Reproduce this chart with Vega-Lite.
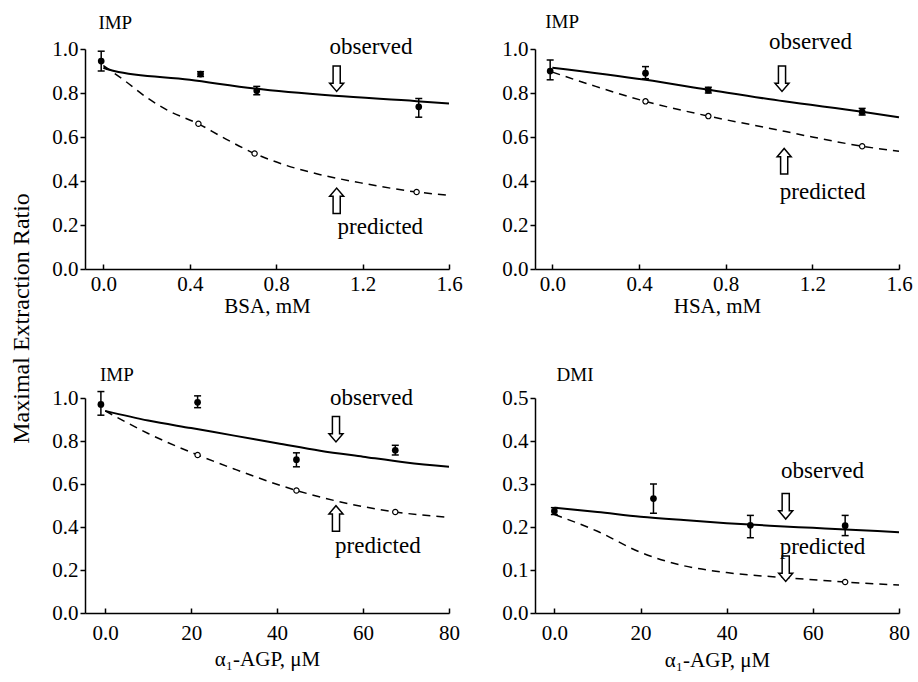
{
  "$schema": "https://vega.github.io/schema/vega-lite/v6.json",
  "background": "white",
  "padding": {"left": 9, "top": 12, "right": 2, "bottom": 5},
  "bounds": "flush",
  "columns": 2,
  "spacing": {"row": 129, "column": 86},
  "title": {"text": "Maximal Extraction Ratio", "orient": "left", "anchor": "middle", "frame": "bounds", "fontSize": 24, "offset": 18, "dx": 23, "font": "Liberation Serif", "fontWeight": "normal", "color": "black"},
  "config": {
    "font": "Liberation Serif",
    "view": {"stroke": null},
    "axis": {"domainColor": "black", "domainWidth": 1.5, "tickColor": "black", "tickWidth": 1.5, "labelColor": "black", "labelFontSize": 21, "labelFont": "Liberation Serif", "titleFont": "Liberation Serif", "titleFontWeight": "normal", "titleFontSize": 21, "titleColor": "black", "grid": false, "labelFlush": false, "labelOverlap": false},
    "axisY": {"tickSize": 5, "labelPadding": 2}
  },
  "datasets": {
    "obs": [
      {"p": 1, "x": -0.01, "y": 0.945, "lo": 0.90, "hi": 0.99},
      {"p": 1, "x": 0.45, "y": 0.886, "lo": 0.875, "hi": 0.897},
      {"p": 1, "x": 0.71, "y": 0.81, "lo": 0.792, "hi": 0.83},
      {"p": 1, "x": 1.46, "y": 0.737, "lo": 0.69, "hi": 0.775},
      {"p": 2, "x": -0.01, "y": 0.90, "lo": 0.86, "hi": 0.95},
      {"p": 2, "x": 0.43, "y": 0.89, "lo": 0.865, "hi": 0.92},
      {"p": 2, "x": 0.72, "y": 0.813, "lo": 0.80, "hi": 0.826},
      {"p": 2, "x": 1.43, "y": 0.714, "lo": 0.70, "hi": 0.73},
      {"p": 3, "x": -1, "y": 0.97, "lo": 0.92, "hi": 1.03},
      {"p": 3, "x": 21.5, "y": 0.98, "lo": 0.955, "hi": 1.01},
      {"p": 3, "x": 44.5, "y": 0.713, "lo": 0.68, "hi": 0.745},
      {"p": 3, "x": 67.5, "y": 0.757, "lo": 0.735, "hi": 0.78},
      {"p": 4, "x": 0, "y": 0.237, "lo": 0.229, "hi": 0.245},
      {"p": 4, "x": 23, "y": 0.266, "lo": 0.232, "hi": 0.30},
      {"p": 4, "x": 45.5, "y": 0.204, "lo": 0.175, "hi": 0.227},
      {"p": 4, "x": 67.5, "y": 0.203, "lo": 0.18, "hi": 0.227}
    ],
    "fit": [
      {"p": 1, "kind": "observed", "x": 0, "y": 0.915},
      {"p": 1, "kind": "observed", "x": 0.05, "y": 0.90},
      {"p": 1, "kind": "observed", "x": 0.4, "y": 0.86},
      {"p": 1, "kind": "observed", "x": 0.7, "y": 0.82},
      {"p": 1, "kind": "observed", "x": 1.07, "y": 0.787},
      {"p": 1, "kind": "observed", "x": 1.45, "y": 0.763},
      {"p": 1, "kind": "observed", "x": 1.6, "y": 0.752},
      {"p": 1, "kind": "predicted", "x": 0, "y": 0.925},
      {"p": 1, "kind": "predicted", "x": 0.1, "y": 0.855},
      {"p": 1, "kind": "predicted", "x": 0.2, "y": 0.78},
      {"p": 1, "kind": "predicted", "x": 0.3, "y": 0.72},
      {"p": 1, "kind": "predicted", "x": 0.44, "y": 0.66},
      {"p": 1, "kind": "predicted", "x": 0.55, "y": 0.60},
      {"p": 1, "kind": "predicted", "x": 0.7, "y": 0.525},
      {"p": 1, "kind": "predicted", "x": 0.85, "y": 0.47},
      {"p": 1, "kind": "predicted", "x": 1.0, "y": 0.43},
      {"p": 1, "kind": "predicted", "x": 1.2, "y": 0.39},
      {"p": 1, "kind": "predicted", "x": 1.45, "y": 0.35},
      {"p": 1, "kind": "predicted", "x": 1.6, "y": 0.335},
      {"p": 2, "kind": "observed", "x": 0, "y": 0.915},
      {"p": 2, "kind": "observed", "x": 0.43, "y": 0.86},
      {"p": 2, "kind": "observed", "x": 0.72, "y": 0.815},
      {"p": 2, "kind": "observed", "x": 1.07, "y": 0.762},
      {"p": 2, "kind": "observed", "x": 1.43, "y": 0.715},
      {"p": 2, "kind": "observed", "x": 1.6, "y": 0.69},
      {"p": 2, "kind": "predicted", "x": 0, "y": 0.895},
      {"p": 2, "kind": "predicted", "x": 0.2, "y": 0.83},
      {"p": 2, "kind": "predicted", "x": 0.43, "y": 0.762},
      {"p": 2, "kind": "predicted", "x": 0.72, "y": 0.695},
      {"p": 2, "kind": "predicted", "x": 1.0, "y": 0.64},
      {"p": 2, "kind": "predicted", "x": 1.2, "y": 0.60},
      {"p": 2, "kind": "predicted", "x": 1.43, "y": 0.558},
      {"p": 2, "kind": "predicted", "x": 1.6, "y": 0.535},
      {"p": 3, "kind": "observed", "x": 0, "y": 0.94},
      {"p": 3, "kind": "observed", "x": 10, "y": 0.895},
      {"p": 3, "kind": "observed", "x": 20, "y": 0.86},
      {"p": 3, "kind": "observed", "x": 30, "y": 0.825},
      {"p": 3, "kind": "observed", "x": 40, "y": 0.79},
      {"p": 3, "kind": "observed", "x": 50, "y": 0.755},
      {"p": 3, "kind": "observed", "x": 60, "y": 0.727},
      {"p": 3, "kind": "observed", "x": 70, "y": 0.70},
      {"p": 3, "kind": "observed", "x": 80, "y": 0.68},
      {"p": 3, "kind": "predicted", "x": 0, "y": 0.94},
      {"p": 3, "kind": "predicted", "x": 10, "y": 0.835},
      {"p": 3, "kind": "predicted", "x": 21.5, "y": 0.735},
      {"p": 3, "kind": "predicted", "x": 30, "y": 0.67},
      {"p": 3, "kind": "predicted", "x": 44.5, "y": 0.57},
      {"p": 3, "kind": "predicted", "x": 54, "y": 0.52},
      {"p": 3, "kind": "predicted", "x": 67.5, "y": 0.47},
      {"p": 3, "kind": "predicted", "x": 80, "y": 0.445},
      {"p": 4, "kind": "observed", "x": 0, "y": 0.245},
      {"p": 4, "kind": "observed", "x": 10, "y": 0.235},
      {"p": 4, "kind": "observed", "x": 20, "y": 0.224},
      {"p": 4, "kind": "observed", "x": 30, "y": 0.216},
      {"p": 4, "kind": "observed", "x": 40, "y": 0.209},
      {"p": 4, "kind": "observed", "x": 50, "y": 0.203},
      {"p": 4, "kind": "observed", "x": 60, "y": 0.198},
      {"p": 4, "kind": "observed", "x": 70, "y": 0.193},
      {"p": 4, "kind": "observed", "x": 80, "y": 0.188},
      {"p": 4, "kind": "predicted", "x": 0, "y": 0.229},
      {"p": 4, "kind": "predicted", "x": 10, "y": 0.19},
      {"p": 4, "kind": "predicted", "x": 20, "y": 0.141},
      {"p": 4, "kind": "predicted", "x": 30, "y": 0.11},
      {"p": 4, "kind": "predicted", "x": 40, "y": 0.094},
      {"p": 4, "kind": "predicted", "x": 54, "y": 0.082},
      {"p": 4, "kind": "predicted", "x": 67.5, "y": 0.072},
      {"p": 4, "kind": "predicted", "x": 80, "y": 0.065}
    ],
    "pred": [
      {"p": 1, "x": 0.44, "y": 0.66}, {"p": 1, "x": 0.7, "y": 0.525}, {"p": 1, "x": 1.45, "y": 0.35},
      {"p": 2, "x": 0.43, "y": 0.762}, {"p": 2, "x": 0.72, "y": 0.695}, {"p": 2, "x": 1.43, "y": 0.558},
      {"p": 3, "x": 21.5, "y": 0.735}, {"p": 3, "x": 44.5, "y": 0.57}, {"p": 3, "x": 67.5, "y": 0.47},
      {"p": 4, "x": 67.5, "y": 0.072}
    ],
    "ann": [
      {"p": 1, "dir": "title", "label": "IMP", "x": -0.023, "y": 1.091},
      {"p": 1, "dir": "text", "label": "observed", "x": 1.047, "y": 1.01},
      {"p": 1, "dir": "down", "label": "", "x": 1.08, "y": 0.865},
      {"p": 1, "dir": "up", "label": "", "x": 1.08, "y": 0.31},
      {"p": 1, "dir": "text", "label": "predicted", "x": 1.084, "y": 0.19},
      {"p": 2, "dir": "title", "label": "IMP", "x": -0.033, "y": 1.096},
      {"p": 2, "dir": "text", "label": "observed", "x": 1.0, "y": 1.03},
      {"p": 2, "dir": "down", "label": "", "x": 1.06, "y": 0.865},
      {"p": 2, "dir": "up", "label": "", "x": 1.07, "y": 0.49},
      {"p": 2, "dir": "text", "label": "predicted", "x": 1.05, "y": 0.35},
      {"p": 3, "dir": "title", "label": "IMP", "x": -1.2, "y": 1.079},
      {"p": 3, "dir": "text", "label": "observed", "x": 52.3, "y": 1.0},
      {"p": 3, "dir": "down", "label": "", "x": 53.7, "y": 0.855},
      {"p": 3, "dir": "up", "label": "", "x": 53.7, "y": 0.44},
      {"p": 3, "dir": "text", "label": "predicted", "x": 53.5, "y": 0.31},
      {"p": 4, "dir": "title", "label": "DMI", "x": 0.5, "y": 0.54},
      {"p": 4, "dir": "text", "label": "observed", "x": 52.6, "y": 0.331},
      {"p": 4, "dir": "down", "label": "", "x": 53.7, "y": 0.248},
      {"p": 4, "dir": "text", "label": "predicted", "x": 52.3, "y": 0.153},
      {"p": 4, "dir": "down", "label": "", "x": 53.7, "y": 0.103}
    ]
  },
  "concat": [
    {
      "width": 364, "height": 220,
      "encoding": {"x": {"field": "x", "type": "quantitative", "scale": {"domain": [-0.085, 1.6], "nice": false, "zero": false}, "axis": {"values": [0, 0.4, 0.8, 1.2, 1.6], "format": ".1f", "title": "BSA, mM", "tickSize": -5, "labelPadding": 9, "titlePadding": 1}}},
      "layer": [
        {"data": {"name": "fit"}, "transform": [{"filter": "datum.p == 1 && datum.kind == 'predicted'"}], "mark": {"type": "line", "color": "black", "strokeWidth": 1.5, "strokeDash": [8, 6], "interpolate": "monotone"}, "encoding": {"y": {"field": "y", "type": "quantitative", "title": null, "scale": {"domain": [0, 1], "nice": false}, "axis": {"values": [0, 0.2, 0.4, 0.6, 0.8, 1.0], "format": ".1f"}}}},
        {"data": {"name": "fit"}, "transform": [{"filter": "datum.p == 1 && datum.kind == 'observed'"}], "mark": {"type": "line", "color": "black", "strokeWidth": 2, "interpolate": "monotone"}, "encoding": {"y": {"field": "y", "type": "quantitative", "title": null}}},
        {"data": {"name": "pred"}, "transform": [{"filter": "datum.p == 1"}], "mark": {"type": "point", "shape": "circle", "filled": true, "fill": "white", "stroke": "black", "strokeWidth": 1.2, "size": 28, "opacity": 1}, "encoding": {"y": {"field": "y", "type": "quantitative", "title": null}}},
        {"data": {"name": "obs"}, "transform": [{"filter": "datum.p == 1"}], "mark": {"type": "rule", "color": "black", "strokeWidth": 1.5}, "encoding": {"y": {"field": "lo", "type": "quantitative", "title": null}, "y2": {"field": "hi"}}},
        {"data": {"name": "obs"}, "transform": [{"filter": "datum.p == 1"}], "mark": {"type": "tick", "orient": "horizontal", "color": "black", "thickness": 1.5, "size": 7, "opacity": 1}, "encoding": {"y": {"field": "lo", "type": "quantitative", "title": null}}},
        {"data": {"name": "obs"}, "transform": [{"filter": "datum.p == 1"}], "mark": {"type": "tick", "orient": "horizontal", "color": "black", "thickness": 1.5, "size": 7, "opacity": 1}, "encoding": {"y": {"field": "hi", "type": "quantitative", "title": null}}},
        {"data": {"name": "obs"}, "transform": [{"filter": "datum.p == 1"}], "mark": {"type": "circle", "color": "black", "size": 45, "opacity": 1}, "encoding": {"y": {"field": "y", "type": "quantitative", "title": null}}},
        {"data": {"name": "ann"}, "transform": [{"filter": "datum.p == 1 && (datum.dir == 'down' || datum.dir == 'up')"}], "mark": {"type": "point", "filled": true, "fill": "white", "stroke": "black", "strokeWidth": 1.5, "size": 650, "opacity": 1}, "encoding": {"y": {"field": "y", "type": "quantitative", "title": null}, "shape": {"field": "dir", "type": "nominal", "legend": null, "scale": {"domain": ["down", "up"], "range": ["M-0.28,-1L0.28,-1L0.28,0.35L0.55,0.35L0,1L-0.55,0.35L-0.28,0.35Z", "M-0.28,1L0.28,1L0.28,-0.35L0.55,-0.35L0,-1L-0.55,-0.35L-0.28,-0.35Z"]}}}},
        {"data": {"name": "ann"}, "transform": [{"filter": "datum.p == 1 && datum.dir == 'text'"}], "mark": {"type": "text", "align": "left", "baseline": "middle", "fontSize": 23, "color": "black"}, "encoding": {"y": {"field": "y", "type": "quantitative", "title": null}, "text": {"field": "label"}}},
        {"data": {"name": "ann"}, "transform": [{"filter": "datum.p == 1 && datum.dir == 'title'"}], "mark": {"type": "text", "align": "left", "baseline": "alphabetic", "fontSize": 19, "color": "black"}, "encoding": {"y": {"field": "y", "type": "quantitative", "title": null}, "text": {"field": "label"}}}
      ]
    },
    {
      "width": 364, "height": 220,
      "encoding": {"x": {"field": "x", "type": "quantitative", "scale": {"domain": [-0.08, 1.6], "nice": false, "zero": false}, "axis": {"values": [0, 0.4, 0.8, 1.2, 1.6], "format": ".1f", "title": "HSA, mM", "tickSize": -5, "labelPadding": 9, "titlePadding": 1}}},
      "layer": [
        {"data": {"name": "fit"}, "transform": [{"filter": "datum.p == 2 && datum.kind == 'predicted'"}], "mark": {"type": "line", "color": "black", "strokeWidth": 1.5, "strokeDash": [8, 6], "interpolate": "monotone"}, "encoding": {"y": {"field": "y", "type": "quantitative", "title": null, "scale": {"domain": [0, 1], "nice": false}, "axis": {"values": [0, 0.2, 0.4, 0.6, 0.8, 1.0], "format": ".1f"}}}},
        {"data": {"name": "fit"}, "transform": [{"filter": "datum.p == 2 && datum.kind == 'observed'"}], "mark": {"type": "line", "color": "black", "strokeWidth": 2, "interpolate": "monotone"}, "encoding": {"y": {"field": "y", "type": "quantitative", "title": null}}},
        {"data": {"name": "pred"}, "transform": [{"filter": "datum.p == 2"}], "mark": {"type": "point", "shape": "circle", "filled": true, "fill": "white", "stroke": "black", "strokeWidth": 1.2, "size": 28, "opacity": 1}, "encoding": {"y": {"field": "y", "type": "quantitative", "title": null}}},
        {"data": {"name": "obs"}, "transform": [{"filter": "datum.p == 2"}], "mark": {"type": "rule", "color": "black", "strokeWidth": 1.5}, "encoding": {"y": {"field": "lo", "type": "quantitative", "title": null}, "y2": {"field": "hi"}}},
        {"data": {"name": "obs"}, "transform": [{"filter": "datum.p == 2"}], "mark": {"type": "tick", "orient": "horizontal", "color": "black", "thickness": 1.5, "size": 7, "opacity": 1}, "encoding": {"y": {"field": "lo", "type": "quantitative", "title": null}}},
        {"data": {"name": "obs"}, "transform": [{"filter": "datum.p == 2"}], "mark": {"type": "tick", "orient": "horizontal", "color": "black", "thickness": 1.5, "size": 7, "opacity": 1}, "encoding": {"y": {"field": "hi", "type": "quantitative", "title": null}}},
        {"data": {"name": "obs"}, "transform": [{"filter": "datum.p == 2"}], "mark": {"type": "circle", "color": "black", "size": 45, "opacity": 1}, "encoding": {"y": {"field": "y", "type": "quantitative", "title": null}}},
        {"data": {"name": "ann"}, "transform": [{"filter": "datum.p == 2 && (datum.dir == 'down' || datum.dir == 'up')"}], "mark": {"type": "point", "filled": true, "fill": "white", "stroke": "black", "strokeWidth": 1.5, "size": 650, "opacity": 1}, "encoding": {"y": {"field": "y", "type": "quantitative", "title": null}, "shape": {"field": "dir", "type": "nominal", "legend": null, "scale": {"domain": ["down", "up"], "range": ["M-0.28,-1L0.28,-1L0.28,0.35L0.55,0.35L0,1L-0.55,0.35L-0.28,0.35Z", "M-0.28,1L0.28,1L0.28,-0.35L0.55,-0.35L0,-1L-0.55,-0.35L-0.28,-0.35Z"]}}}},
        {"data": {"name": "ann"}, "transform": [{"filter": "datum.p == 2 && datum.dir == 'text'"}], "mark": {"type": "text", "align": "left", "baseline": "middle", "fontSize": 23, "color": "black"}, "encoding": {"y": {"field": "y", "type": "quantitative", "title": null}, "text": {"field": "label"}}},
        {"data": {"name": "ann"}, "transform": [{"filter": "datum.p == 2 && datum.dir == 'title'"}], "mark": {"type": "text", "align": "left", "baseline": "alphabetic", "fontSize": 19, "color": "black"}, "encoding": {"y": {"field": "y", "type": "quantitative", "title": null}, "text": {"field": "label"}}}
      ]
    },
    {
      "width": 364, "height": 215,
      "encoding": {"x": {"field": "x", "type": "quantitative", "scale": {"domain": [-4.7, 80], "nice": false, "zero": false}, "axis": {"values": [0, 20, 40, 60, 80], "format": "d", "labelExpr": "datum.value == 0 ? '0.0' : datum.label", "title": "α₁-AGP, μM", "tickSize": -5, "labelPadding": 14, "titlePadding": 5}}},
      "layer": [
        {"data": {"name": "fit"}, "transform": [{"filter": "datum.p == 3 && datum.kind == 'predicted'"}], "mark": {"type": "line", "color": "black", "strokeWidth": 1.5, "strokeDash": [8, 6], "interpolate": "monotone"}, "encoding": {"y": {"field": "y", "type": "quantitative", "title": null, "scale": {"domain": [0, 1], "nice": false}, "axis": {"values": [0, 0.2, 0.4, 0.6, 0.8, 1.0], "format": ".1f"}}}},
        {"data": {"name": "fit"}, "transform": [{"filter": "datum.p == 3 && datum.kind == 'observed'"}], "mark": {"type": "line", "color": "black", "strokeWidth": 2, "interpolate": "monotone"}, "encoding": {"y": {"field": "y", "type": "quantitative", "title": null}}},
        {"data": {"name": "pred"}, "transform": [{"filter": "datum.p == 3"}], "mark": {"type": "point", "shape": "circle", "filled": true, "fill": "white", "stroke": "black", "strokeWidth": 1.2, "size": 28, "opacity": 1}, "encoding": {"y": {"field": "y", "type": "quantitative", "title": null}}},
        {"data": {"name": "obs"}, "transform": [{"filter": "datum.p == 3"}], "mark": {"type": "rule", "color": "black", "strokeWidth": 1.5}, "encoding": {"y": {"field": "lo", "type": "quantitative", "title": null}, "y2": {"field": "hi"}}},
        {"data": {"name": "obs"}, "transform": [{"filter": "datum.p == 3"}], "mark": {"type": "tick", "orient": "horizontal", "color": "black", "thickness": 1.5, "size": 7, "opacity": 1}, "encoding": {"y": {"field": "lo", "type": "quantitative", "title": null}}},
        {"data": {"name": "obs"}, "transform": [{"filter": "datum.p == 3"}], "mark": {"type": "tick", "orient": "horizontal", "color": "black", "thickness": 1.5, "size": 7, "opacity": 1}, "encoding": {"y": {"field": "hi", "type": "quantitative", "title": null}}},
        {"data": {"name": "obs"}, "transform": [{"filter": "datum.p == 3"}], "mark": {"type": "circle", "color": "black", "size": 45, "opacity": 1}, "encoding": {"y": {"field": "y", "type": "quantitative", "title": null}}},
        {"data": {"name": "ann"}, "transform": [{"filter": "datum.p == 3 && (datum.dir == 'down' || datum.dir == 'up')"}], "mark": {"type": "point", "filled": true, "fill": "white", "stroke": "black", "strokeWidth": 1.5, "size": 650, "opacity": 1}, "encoding": {"y": {"field": "y", "type": "quantitative", "title": null}, "shape": {"field": "dir", "type": "nominal", "legend": null, "scale": {"domain": ["down", "up"], "range": ["M-0.28,-1L0.28,-1L0.28,0.35L0.55,0.35L0,1L-0.55,0.35L-0.28,0.35Z", "M-0.28,1L0.28,1L0.28,-0.35L0.55,-0.35L0,-1L-0.55,-0.35L-0.28,-0.35Z"]}}}},
        {"data": {"name": "ann"}, "transform": [{"filter": "datum.p == 3 && datum.dir == 'text'"}], "mark": {"type": "text", "align": "left", "baseline": "middle", "fontSize": 23, "color": "black"}, "encoding": {"y": {"field": "y", "type": "quantitative", "title": null}, "text": {"field": "label"}}},
        {"data": {"name": "ann"}, "transform": [{"filter": "datum.p == 3 && datum.dir == 'title'"}], "mark": {"type": "text", "align": "left", "baseline": "alphabetic", "fontSize": 19, "color": "black"}, "encoding": {"y": {"field": "y", "type": "quantitative", "title": null}, "text": {"field": "label"}}}
      ]
    },
    {
      "width": 364, "height": 215,
      "encoding": {"x": {"field": "x", "type": "quantitative", "scale": {"domain": [-4.5, 80], "nice": false, "zero": false}, "axis": {"values": [0, 20, 40, 60, 80], "format": "d", "labelExpr": "datum.value == 0 ? '0.0' : datum.label", "title": "α₁-AGP, μM", "tickSize": -5, "labelPadding": 14, "titlePadding": 6}}},
      "layer": [
        {"data": {"name": "fit"}, "transform": [{"filter": "datum.p == 4 && datum.kind == 'predicted'"}], "mark": {"type": "line", "color": "black", "strokeWidth": 1.5, "strokeDash": [8, 6], "interpolate": "monotone"}, "encoding": {"y": {"field": "y", "type": "quantitative", "title": null, "scale": {"domain": [0, 0.5], "nice": false}, "axis": {"values": [0, 0.1, 0.2, 0.3, 0.4, 0.5], "format": ".1f"}}}},
        {"data": {"name": "fit"}, "transform": [{"filter": "datum.p == 4 && datum.kind == 'observed'"}], "mark": {"type": "line", "color": "black", "strokeWidth": 2, "interpolate": "monotone"}, "encoding": {"y": {"field": "y", "type": "quantitative", "title": null}}},
        {"data": {"name": "pred"}, "transform": [{"filter": "datum.p == 4"}], "mark": {"type": "point", "shape": "circle", "filled": true, "fill": "white", "stroke": "black", "strokeWidth": 1.2, "size": 28, "opacity": 1}, "encoding": {"y": {"field": "y", "type": "quantitative", "title": null}}},
        {"data": {"name": "obs"}, "transform": [{"filter": "datum.p == 4"}], "mark": {"type": "rule", "color": "black", "strokeWidth": 1.5}, "encoding": {"y": {"field": "lo", "type": "quantitative", "title": null}, "y2": {"field": "hi"}}},
        {"data": {"name": "obs"}, "transform": [{"filter": "datum.p == 4"}], "mark": {"type": "tick", "orient": "horizontal", "color": "black", "thickness": 1.5, "size": 7, "opacity": 1}, "encoding": {"y": {"field": "lo", "type": "quantitative", "title": null}}},
        {"data": {"name": "obs"}, "transform": [{"filter": "datum.p == 4"}], "mark": {"type": "tick", "orient": "horizontal", "color": "black", "thickness": 1.5, "size": 7, "opacity": 1}, "encoding": {"y": {"field": "hi", "type": "quantitative", "title": null}}},
        {"data": {"name": "obs"}, "transform": [{"filter": "datum.p == 4"}], "mark": {"type": "circle", "color": "black", "size": 45, "opacity": 1}, "encoding": {"y": {"field": "y", "type": "quantitative", "title": null}}},
        {"data": {"name": "ann"}, "transform": [{"filter": "datum.p == 4 && (datum.dir == 'down' || datum.dir == 'up')"}], "mark": {"type": "point", "filled": true, "fill": "white", "stroke": "black", "strokeWidth": 1.5, "size": 650, "opacity": 1}, "encoding": {"y": {"field": "y", "type": "quantitative", "title": null}, "shape": {"field": "dir", "type": "nominal", "legend": null, "scale": {"domain": ["down", "up"], "range": ["M-0.28,-1L0.28,-1L0.28,0.35L0.55,0.35L0,1L-0.55,0.35L-0.28,0.35Z", "M-0.28,1L0.28,1L0.28,-0.35L0.55,-0.35L0,-1L-0.55,-0.35L-0.28,-0.35Z"]}}}},
        {"data": {"name": "ann"}, "transform": [{"filter": "datum.p == 4 && datum.dir == 'text'"}], "mark": {"type": "text", "align": "left", "baseline": "middle", "fontSize": 23, "color": "black"}, "encoding": {"y": {"field": "y", "type": "quantitative", "title": null}, "text": {"field": "label"}}},
        {"data": {"name": "ann"}, "transform": [{"filter": "datum.p == 4 && datum.dir == 'title'"}], "mark": {"type": "text", "align": "left", "baseline": "alphabetic", "fontSize": 19, "color": "black"}, "encoding": {"y": {"field": "y", "type": "quantitative", "title": null}, "text": {"field": "label"}}}
      ]
    }
  ]
}
